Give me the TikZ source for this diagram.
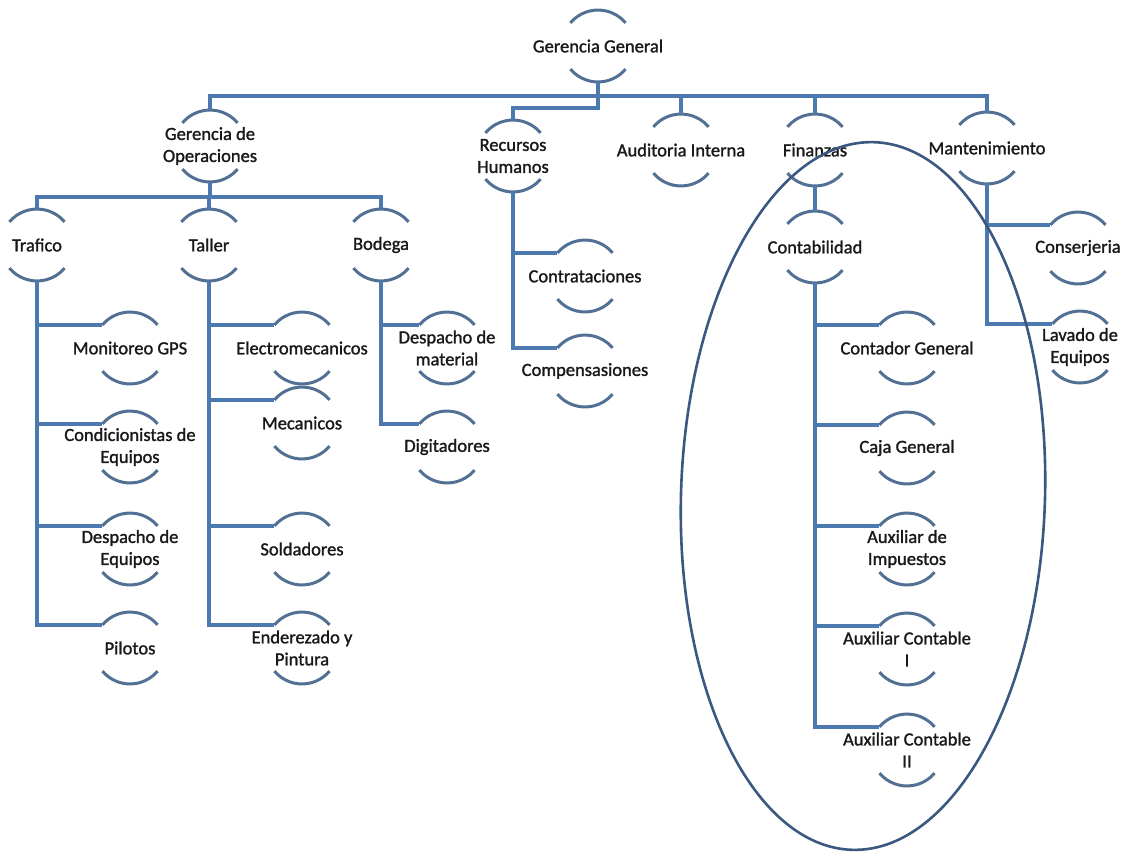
\documentclass[tikz,border=0pt]{standalone}
\usepackage{fontspec}
\setmainfont{Carlito}
\newfontfamily\lblfont{Carlito}[FakeBold=1.4]
\usetikzlibrary{calc}
\definecolor{connc}{RGB}{76,122,176}
\definecolor{arcc}{RGB}{82,112,148}
\definecolor{ellc}{RGB}{58,88,128}
\definecolor{txtc}{RGB}{25,25,25}
\tikzset{
  lbl/.style={font=\lblfont\fontsize{18.5}{22}\selectfont, align=center, inner sep=0pt, text=txtc},
  conn/.style={draw=connc, line width=3.3pt},
  arcst/.style={draw=arcc, line width=3pt},
  ell/.style={draw=ellc, line width=2.6pt}
}
\newcommand\onode[4]{%
  \node[lbl] (#1) at (#2,#3) {#4};
  \coordinate (#1-t) at (#2,{#3-36});
  \coordinate (#1-b) at (#2,{#3+36});
  \coordinate (#1-l) at ({#2-27.6},{#3-23.1});
  \draw[arcst] ({#2-27.6},{#3-23.1}) arc[start angle=-140,end angle=-40,radius=36];
  \draw[arcst] ({#2-27.6},{#3+23.1}) arc[start angle=140,end angle=40,radius=36];
}
\begin{document}
\begin{tikzpicture}[x=1pt,y=-1pt]
\useasboundingbox (0,0) rectangle (1125,852);
% nodes
\onode{gg}{598}{46}{Gerencia General}
\onode{go}{210}{146}{Gerencia de\\Operaciones}
\onode{rh}{513}{156}{Recursos\\Humanos}
\onode{ai}{681}{150}{Auditoria Interna}
\onode{fin}{815}{150}{Finanzas}
\onode{man}{987}{148}{Mantenimiento}
\onode{tra}{37}{245}{Trafico}
\onode{tal}{209}{245}{Taller}
\onode{bod}{381}{245}{Bodega}
\onode{mon}{130}{348}{Monitoreo GPS}
\onode{cond}{130}{447}{Condicionistas de\\Equipos}
\onode{desE}{130}{549}{Despacho de\\Equipos}
\onode{pil}{130}{648}{Pilotos}
\onode{ele}{302}{348}{Electromecanicos}
\onode{mec}{302}{423}{Mecanicos}
\onode{sol}{302}{549}{Soldadores}
\onode{endz}{302}{648}{Enderezado y\\Pintura}
\onode{desM}{447}{348}{Despacho de\\material}
\onode{dig}{447}{447}{Digitadores}
\onode{con}{585}{276}{Contrataciones}
\onode{com}{585}{371}{Compensasiones}
\onode{cont}{815}{247}{Contabilidad}
\onode{cg}{907}{348}{Contador General}
\onode{caja}{907}{448}{Caja General}
\onode{aimp}{907}{549}{Auxiliar de\\Impuestos}
\onode{aca}{907}{649}{Auxiliar Contable\\I}
\onode{acb}{907}{750}{Auxiliar Contable\\II}
\onode{cons}{1078}{248}{Conserjeria}
\onode{lav}{1080}{347}{Lavado de\\Equipos}
% junctions
\coordinate (j0) at (598,96);
\coordinate (j1) at (210,197);
% top level
\draw[conn] (gg-b) -- (j0);
\draw[conn] (go-t) -- (go-t |- j0) -- (man-t |- j0) -- (man-t);
\draw[conn] (ai-t) -- (ai-t |- j0);
\draw[conn] (fin-t) -- (fin-t |- j0);
\draw[conn] (j0) -- ++(0,12) -| (rh-t);
% operaciones
\draw[conn] (go-b) -- (j1);
\draw[conn] (tra-t) -- (tra-t |- j1) -- (bod-t |- j1) -- (bod-t);
\draw[conn] (tal-t) -- (tal-t |- j1);
% trafico
\draw[conn] (tra-b) |- (pil-l);
\draw[conn] (mon-l) -- (mon-l -| tra-b);
\draw[conn] (cond-l) -- (cond-l -| tra-b);
\draw[conn] (desE-l) -- (desE-l -| tra-b);
% taller
\draw[conn] (tal-b) |- (endz-l);
\draw[conn] (ele-l) -- (ele-l -| tal-b);
\draw[conn] (mec-l) -- (mec-l -| tal-b);
\draw[conn] (sol-l) -- (sol-l -| tal-b);
% bodega
\draw[conn] (bod-b) |- (dig-l);
\draw[conn] (desM-l) -- (desM-l -| bod-b);
% recursos humanos
\draw[conn] (rh-b) |- (com-l);
\draw[conn] (con-l) -- (con-l -| rh-b);
% finanzas
\draw[conn] (fin-b) -- (cont-t);
\draw[conn] (cont-b) |- (acb-l);
\draw[conn] (cg-l) -- (cg-l -| cont-b);
\draw[conn] (caja-l) -- (caja-l -| cont-b);
\draw[conn] (aimp-l) -- (aimp-l -| cont-b);
\draw[conn] (aca-l) -- (aca-l -| cont-b);
% mantenimiento
\draw[conn] (man-b) |- (lav-l);
\draw[conn] (cons-l) -- (cons-l -| man-b);
% ellipse
\draw[ell, rotate around={-1.8:(863,496)}] (863,496) ellipse [x radius=182, y radius=354];
\end{tikzpicture}
\end{document}
